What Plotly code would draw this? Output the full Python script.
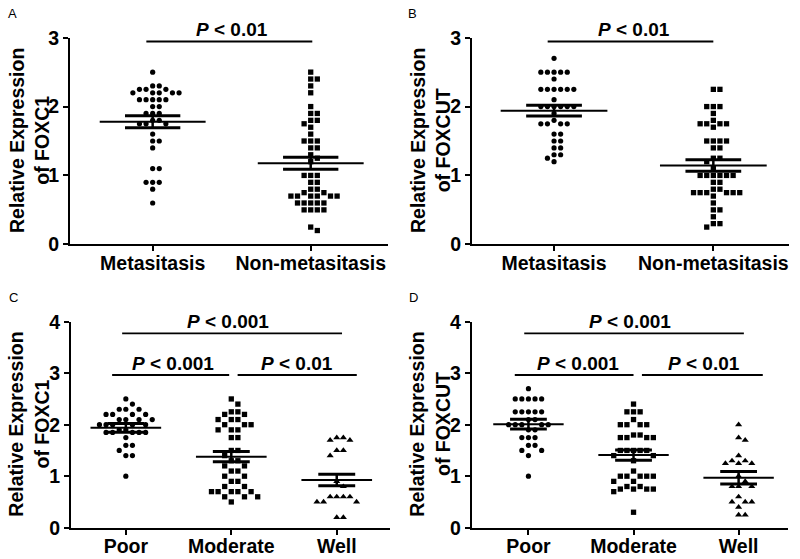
import plotly.graph_objects as go

# ---------------- data ----------------
A_categories = ["Metasitasis", "Non-metasitasis"]
A_metastasis = [2.5, 2.3, 2.3, 2.25, 2.25, 2.25, 2.2, 2.2, 2.2, 2.2, 2.2,
                2.1, 2.1, 2.1, 2.1, 2.1, 2.0, 2.0, 1.9, 1.9, 1.9, 1.8, 1.8,
                1.75, 1.75, 1.75, 1.6, 1.5, 1.5, 1.4, 1.1, 1.1, 0.9, 0.9, 0.9, 0.8, 0.6]
A_non_metastasis = [2.5, 2.4, 2.4, 2.3, 2.2, 2.0, 1.9, 1.9, 1.8, 1.8, 1.75, 1.7,
                    1.6, 1.5, 1.5, 1.5, 1.4, 1.4, 1.3, 1.25, 1.2, 1.0, 1.0, 1.0,
                    0.9, 0.9, 0.8, 0.8, 0.75, 0.75, 0.7, 0.7, 0.7, 0.7, 0.7, 0.7,
                    0.6, 0.6, 0.6, 0.6, 0.6, 0.5, 0.5, 0.5, 0.5, 0.25, 0.2]
A_mean = [1.78, 1.177]
A_sem = [0.088, 0.088]

B_categories = ["Metasitasis", "Non-metasitasis"]
B_metastasis = [2.7, 2.5, 2.5, 2.5, 2.5, 2.5, 2.4, 2.25, 2.25, 2.25, 2.25, 2.25, 2.25,
                2.1, 2.0, 2.0, 2.0, 2.0, 2.0, 2.0, 1.9, 1.8, 1.75, 1.75, 1.75, 1.75,
                1.6, 1.6, 1.5, 1.5, 1.4, 1.4, 1.3, 1.3, 1.25, 1.2]
B_non_metastasis = [2.25, 2.25, 2.0, 2.0, 2.0, 1.9, 1.8, 1.75, 1.75, 1.75, 1.75, 1.7,
                    1.5, 1.5, 1.5, 1.5, 1.4, 1.4, 1.25, 1.25, 1.2, 1.1,
                    1.0, 1.0, 1.0, 1.0, 1.0, 1.0, 0.9, 0.9, 0.8, 0.8,
                    0.75, 0.75, 0.75, 0.75, 0.75, 0.75, 0.7, 0.6, 0.5, 0.5, 0.4, 0.3, 0.3, 0.25]
B_mean = [1.94, 1.145]
B_sem = [0.078, 0.083]

C_categories = ["Poor", "Moderate", "Well"]
C_poor = [2.5, 2.4, 2.3, 2.3, 2.3, 2.2, 2.2, 2.2, 2.2, 2.1, 2.1, 2.1, 2.1,
          2.0, 2.0, 2.0, 2.0, 2.0, 1.9, 1.9, 1.85, 1.85, 1.85, 1.85, 1.85,
          1.75, 1.6, 1.6, 1.5, 1.4, 1.4, 1.0]
C_moderate = [2.5, 2.4, 2.25, 2.25, 2.2, 2.2, 2.1, 2.1, 2.1, 2.0, 2.0, 2.0,
              1.9, 1.9, 1.9, 1.75, 1.75, 1.5, 1.5, 1.4, 1.3, 1.3, 1.2, 1.2,
              1.1, 1.1, 1.0, 1.0, 0.9, 0.9, 0.8, 0.8, 0.7, 0.7, 0.7, 0.7, 0.7,
              0.6, 0.6, 0.6, 0.5]
C_well = [1.75, 1.75, 1.7, 1.7, 1.5, 1.5, 1.4, 0.9, 0.8, 0.6, 0.6, 0.6, 0.6,
          0.5, 0.5, 0.5, 0.2, 0.2]
C_mean = [1.94, 1.38, 0.926]
C_sem = [0.085, 0.10, 0.11]

D_categories = ["Poor", "Moderate", "Well"]
D_poor = [2.7, 2.5, 2.5, 2.5, 2.5, 2.5, 2.25, 2.25, 2.25, 2.25, 2.25, 2.1, 2.1,
          2.0, 2.0, 2.0, 2.0, 2.0, 1.9, 1.9, 1.75, 1.75, 1.75, 1.6, 1.6, 1.5, 1.5, 1.4, 1.0]
D_moderate = [2.4, 2.25, 2.25, 2.25, 2.1, 2.0, 2.0, 2.0, 2.0, 1.8, 1.8,
              1.75, 1.75, 1.75, 1.75, 1.5, 1.5, 1.5, 1.5, 1.5, 1.4, 1.4, 1.3,
              1.1, 1.0, 1.0, 1.0, 1.0, 1.0, 0.9, 0.9, 0.8, 0.8,
              0.75, 0.75, 0.75, 0.75, 0.7, 0.3]
D_well = [2.0, 1.75, 1.7, 1.4, 1.3, 1.3, 1.25, 1.25, 1.25, 1.0, 0.9,
          0.8, 0.8, 0.8, 0.6, 0.5, 0.5, 0.5, 0.4, 0.25, 0.25]
D_mean = [2.01, 1.41, 0.97]
D_sem = [0.095, 0.10, 0.12]

y_titles = ["Relative Expression<br>of FOXC1", "Relative Expression<br>of FOXCUT",
            "Relative Expression<br>of FOXC1", "Relative Expression<br>of FOXCUT"]
panel_letters = ["A", "B", "C", "D"]

# significance brackets: (x0, x1, y, label, text_x)
A_sig = [(-0.04, 1.01, 2.945, "0.01", 0.5)]
B_sig = [(-0.04, 1.0, 2.945, "0.01", 0.5)]
C_sig = [(-0.035, 2.05, 3.775, "0.001", 0.97), (-0.13, 0.98, 2.965, "0.001", 0.45),
         (1.06, 2.19, 2.965, "0.01", 1.62)]
D_sig = [(-0.04, 2.05, 3.775, "0.001", 0.97), (-0.13, 1.0, 2.965, "0.001", 0.47),
         (1.08, 2.23, 2.965, "0.01", 1.67)]

# ---------------- layout geometry ----------------
FONT = "Arial, 'Liberation Sans', sans-serif"
W, H = 800, 559

panels = [
    dict(xd=(70, 388), yd=(244.3, 37.7), xr=(-0.523, 1.489), ymax=3, cats=A_categories,
         groups=[A_metastasis, A_non_metastasis], syms=["circle", "square"],
         mean=A_mean, sem=A_sem, sig=A_sig, tx=29),
    dict(xd=(472, 789), yd=(244.3, 37.7), xr=(-0.515, 1.475), ymax=3, cats=B_categories,
         groups=[B_metastasis, B_non_metastasis], syms=["circle", "square"],
         mean=B_mean, sem=B_sem, sig=B_sig, tx=430),
    dict(xd=(71, 390), yd=(527.7, 321.7), xr=(-0.52, 2.505), ymax=4, cats=C_categories,
         groups=[C_poor, C_moderate, C_well], syms=["circle", "square", "triangle-up"],
         mean=C_mean, sem=C_sem, sig=C_sig, tx=29),
    dict(xd=(471.7, 788), yd=(527.7, 321.7), xr=(-0.54, 2.47), ymax=4, cats=D_categories,
         groups=[D_poor, D_moderate, D_well], syms=["circle", "square", "triangle-up"],
         mean=D_mean, sem=D_sem, sig=D_sig, tx=430),
]
letter_pos = [(12, 13), (412, 13), (13, 297), (413, 297)]
MARKER_SIZE = {"circle": 5.2, "square": 5.3, "triangle-up": 6.2}


def swarm(values, center, px_x, px_y, d=6.6, vthr=5.6):
    placed = []
    xs = []
    cands = [0]
    for i in range(1, 60):
        cands += [i, -i]
    for v in values:
        y = v * px_y
        chosen = 0
        for c in cands:
            x = c * d
            if all(not (abs(x - p[0]) < d * 0.95 and abs(y - p[1]) < vthr) for p in placed):
                chosen = x
                break
        placed.append((chosen, y))
        xs.append(center + chosen / px_x)
    return xs


fig = go.Figure()
layout = dict(width=W, height=H, margin=dict(l=0, r=0, t=0, b=0, pad=0, autoexpand=False),
              paper_bgcolor="white", plot_bgcolor="white", showlegend=False,
              shapes=[], annotations=[])

MEAN_HW, SEM_HW = 0.335, 0.175
TICKFONT = dict(family=FONT, size=19.5, color="black", weight="bold")

for i, p in enumerate(panels):
    k = "" if i == 0 else str(i + 1)
    xa, ya = "x" + k, "y" + k
    x0, x1 = p["xd"]
    yb, yt = p["yd"]
    px_x = (x1 - x0) / (p["xr"][1] - p["xr"][0])
    px_y = (yb - yt) / p["ymax"]
    xdom = [x0 / W, x1 / W]
    ydom = [1 - yb / H, 1 - yt / H]
    layout["xaxis" + k] = dict(domain=xdom, range=list(p["xr"]), anchor=ya, automargin=False,
                               showline=True, linecolor="black", linewidth=2,
                               ticks="outside", ticklen=5, tickwidth=2, tickcolor="black",
                               ticklabelstandoff=-5,
                               tickvals=list(range(len(p["cats"]))), ticktext=p["cats"],
                               tickfont=TICKFONT, showgrid=False, zeroline=False)
    layout["yaxis" + k] = dict(domain=ydom, range=[0, p["ymax"]], anchor=xa, automargin=False,
                               showline=True, linecolor="black", linewidth=2,
                               ticks="outside", ticklen=5, tickwidth=2, tickcolor="black",
                               dtick=1, tick0=0, tickfont=TICKFONT,
                               showgrid=False, zeroline=False)
    for g, (vals, sym) in enumerate(zip(p["groups"], p["syms"])):
        xs = swarm(vals, g, px_x, px_y)
        fig.add_trace(go.Scatter(x=xs, y=vals, mode="markers", xaxis=xa, yaxis=ya,
                                 marker=dict(symbol=sym, size=MARKER_SIZE[sym], color="black",
                                             line=dict(width=0)),
                                 cliponaxis=False, hoverinfo="y"))
        m, s = p["mean"][g], p["sem"][g]
        fig.add_trace(go.Scatter(x=[g - MEAN_HW, g + MEAN_HW], y=[m, m], mode="lines",
                                 xaxis=xa, yaxis=ya, line=dict(color="black", width=2),
                                 hoverinfo="skip"))
        fig.add_trace(go.Scatter(x=[g - SEM_HW, g + SEM_HW, None, g - SEM_HW, g + SEM_HW],
                                 y=[m + s, m + s, None, m - s, m - s], mode="lines",
                                 xaxis=xa, yaxis=ya, line=dict(color="black", width=3),
                                 hoverinfo="skip"))
        fig.add_trace(go.Scatter(x=[g, g], y=[m - s, m + s], mode="lines",
                                 xaxis=xa, yaxis=ya, line=dict(color="black", width=2.5),
                                 hoverinfo="skip"))
    for (sx0, sx1, sy, lab, tx) in p["sig"]:
        layout["shapes"].append(dict(type="line", xref=xa, yref=ya, x0=sx0, x1=sx1,
                                     y0=sy, y1=sy, line=dict(color="black", width=1.8)))
        layout["annotations"].append(dict(xref=xa, yref=ya, x=tx, y=sy, yanchor="bottom",
                                          xanchor="center", showarrow=False, yshift=-1,
                                          text="<i>P</i> &lt; " + lab,
                                          font=dict(family=FONT, size=19, color="black",
                                                    weight="bold")))
    layout["annotations"].append(dict(xref="paper", yref="paper", x=p["tx"] / W,
                                      y=(ydom[0] + ydom[1]) / 2, textangle=-90,
                                      xanchor="center", yanchor="middle", showarrow=False,
                                      text=y_titles[i],
                                      font=dict(family=FONT, size=19.5, color="black",
                                                weight="bold")))
    lx, ly = letter_pos[i]
    layout["annotations"].append(dict(xref="paper", yref="paper", x=lx / W, y=1 - ly / H,
                                      xanchor="center", yanchor="middle", showarrow=False,
                                      text=panel_letters[i],
                                      font=dict(family=FONT, size=13, color="black")))

fig.update_layout(**layout)
fig.write_html("out.html", config={"displayModeBar": False},
               post_script="document.body.style.margin='0';")
